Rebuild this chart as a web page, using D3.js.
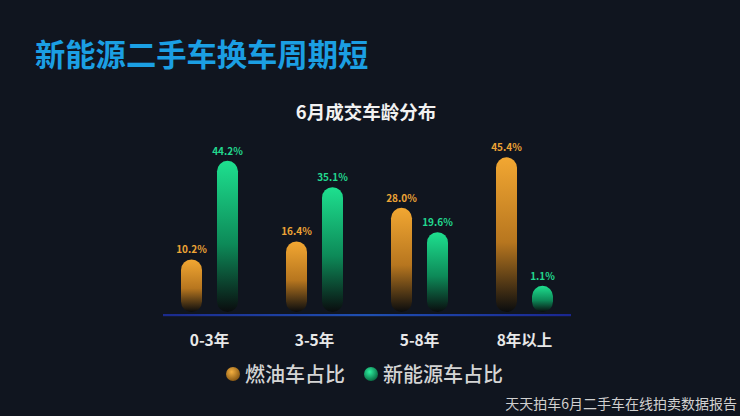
<!DOCTYPE html>
<html><head><meta charset="utf-8">
<script src="https://cdn.jsdelivr.net/npm/d3@7"></script>
<style>
html,body{margin:0;padding:0;background:#10151f;}
svg{display:block;}
text{font-family:"Noto Sans CJK SC","Noto Sans",sans-serif;}
</style></head>
<body>
<svg id="c" width="740" height="416"></svg>
<script>
const categories = ["0-3年", "3-5年", "5-8年", "8年以上"];
const seriesNames = ["燃油车占比", "新能源车占比"];
const fuelValues = [10.2, 16.4, 28.0, 45.4];
const nevValues = [44.2, 35.1, 19.6, 1.1];
const title = "新能源二手车换车周期短";
const chartTitle = "6月成交车龄分布";
const source = "天天拍车6月二手车在线拍卖数据报告";

const svg = d3.select("#c");
svg.append("rect").attr("width",740).attr("height",416).attr("fill","#10151f");

const defs = svg.append("defs");
function barGrad(id, c1, c2){
  const g = defs.append("linearGradient").attr("id",id).attr("x1",0).attr("y1",0).attr("x2",0).attr("y2",1);
  g.append("stop").attr("offset","0%").attr("stop-color",c1);
  g.append("stop").attr("offset","55%").attr("stop-color",c2);
  g.append("stop").attr("offset","100%").attr("stop-color","#0a0c0e");
}
barGrad("gFuel","#f2a732","#b7761f");
barGrad("gNev","#1ee08f","#0d8a58");
const lg = defs.append("linearGradient").attr("id","gLine").attr("x1",0).attr("x2",1);
lg.append("stop").attr("offset","0%").attr("stop-color","#1b2a8c");
lg.append("stop").attr("offset","50%").attr("stop-color","#1f4fb0");
lg.append("stop").attr("offset","100%").attr("stop-color","#1a2690");
function dotGrad(id,c1,c2){
  const g = defs.append("radialGradient").attr("id",id).attr("cx","40%").attr("cy","35%").attr("r","65%");
  g.append("stop").attr("offset","0%").attr("stop-color",c1);
  g.append("stop").attr("offset","100%").attr("stop-color",c2);
}
dotGrad("dFuel","#f4b040","#8a5a15");
dotGrad("dNev","#2ef0a0","#0a6e45");

svg.append("text").attr("x",35).attr("y",66).attr("font-size",30.3).attr("font-weight",700)
  .attr("fill","#1b9fe3").text(title);
svg.append("text").attr("x",366).attr("y",119).attr("text-anchor","middle").attr("font-size",18.5)
  .attr("font-weight",700).attr("fill","#f2f2f2").text(chartTitle);

const baseY = 312;
const x = d3.scaleBand().domain(categories).range([157,577]).padding(0);
const y = d3.scaleLinear().domain([0,50]).range([baseY-23, baseY-23-145]);
const bw = 21, off = 18;

svg.append("rect").attr("x",163).attr("y",314).attr("width",408).attr("height",2.2).attr("fill","url(#gLine)");

const series = [
  {name:seriesNames[0], values:fuelValues, dx:-off, grad:"url(#gFuel)", color:"#eda436"},
  {name:seriesNames[1], values:nevValues, dx:off, grad:"url(#gNev)", color:"#22d98f"}
];
series.forEach(s=>{
  const g = svg.append("g");
  g.selectAll("rect").data(categories).join("rect")
    .attr("x",(d)=>x(d)+x.bandwidth()/2+s.dx-bw/2)
    .attr("y",(d,i)=>y(s.values[i]))
    .attr("width",bw)
    .attr("height",(d,i)=>baseY-y(s.values[i]))
    .attr("rx",bw/2).attr("ry",bw/2)
    .attr("fill",s.grad);
  g.selectAll("text").data(categories).join("text")
    .attr("x",(d)=>x(d)+x.bandwidth()/2+s.dx)
    .attr("y",(d,i)=>y(s.values[i])-6)
    .attr("text-anchor","middle").attr("font-size",10).attr("font-weight",700)
    .attr("fill",s.color)
    .text((d,i)=>s.values[i].toFixed(1)+"%");
});

svg.append("g").selectAll("text").data(categories).join("text")
  .attr("x",d=>x(d)+x.bandwidth()/2).attr("y",345.5)
  .attr("text-anchor","middle").attr("font-size",15.5).attr("font-weight",700)
  .attr("fill","#e8e8e8").text(d=>d);

// legend
const legendItems = [{name:seriesNames[0], dot:"url(#dFuel)", x:233},{name:seriesNames[1], dot:"url(#dNev)", x:371}];
const lgG = svg.append("g");
legendItems.forEach(it=>{
  lgG.append("circle").attr("cx",it.x).attr("cy",374).attr("r",7).attr("fill",it.dot);
  lgG.append("text").attr("x",it.x+12).attr("y",381.5).attr("font-size",20).attr("font-weight",500)
    .attr("fill","#d4d4d4").text(it.name);
});

svg.append("text").attr("x",737).attr("y",409).attr("text-anchor","end").attr("font-size",14)
  .attr("fill","#d0d0d0").text(source);
</script>
</body></html>
